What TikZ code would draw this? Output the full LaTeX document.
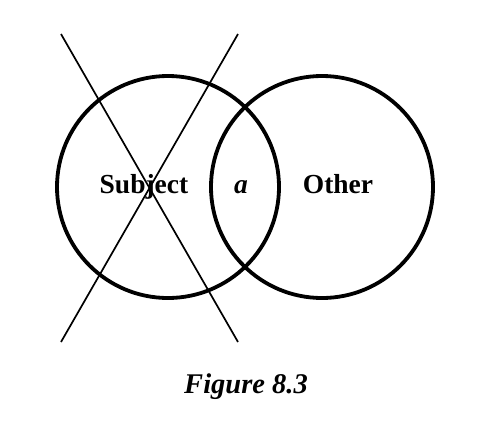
\documentclass[tikz,border=0pt]{standalone}
\usepackage{fontspec}
\setmainfont{Liberation Serif}
\begin{document}
\begin{tikzpicture}[x=1pt,y=-1pt]
\tikzset{ring/.style={line width=3.8pt},
  cross/.style={line width=1.7pt},
  lbl/.style={anchor=base,inner sep=0pt,font=\fontsize{27.5}{32}\selectfont\bfseries}}
\useasboundingbox (0,0) rectangle (487,424);

\coordinate (subj) at (168,187);
\coordinate (oth) at (322,187);
\draw[ring] (subj) circle (111);
\draw[ring] (oth) circle (111);

\coordinate (tl) at (61,34);
\coordinate (br) at (238,342);
\coordinate (tr) at (238,34);
\coordinate (bl) at (61,342);
\draw[cross] (tl) -- (br);
\draw[cross] (tr) -- (bl);

\node[lbl] (s) at (144,193) {Subject};
\node[lbl] (a) at (241,193) {\itshape a};
\node[lbl] (o) at (338,193) {Other};
\node[lbl,font=\fontsize{28.5}{32}\selectfont\bfseries\itshape] (fig) at (246,393) {Figure 8.3};
\end{tikzpicture}
\end{document}
